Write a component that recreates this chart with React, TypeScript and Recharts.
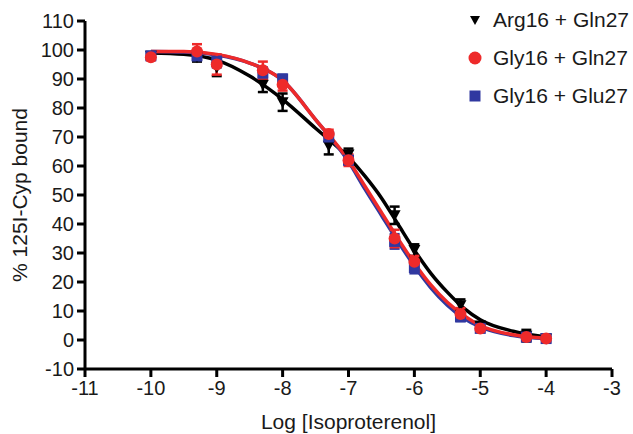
import React from 'react';
import { ComposedChart, Line, Scatter, XAxis, YAxis, ErrorBar } from 'recharts';

// Measured doses (log M)
const doses = [-10, -9.3, -9, -8.3, -8, -7.3, -7, -6.3, -6, -5.3, -5, -4.3, -4];

// Arg16 + Gln27
const argGlnValues = [98, 97.5, 94, 88, 82, 67, 64, 43, 31, 12, 5, 1.5, 0.5];
const argGlnErrors = [1, 1.5, 3, 2.5, 3, 3, 2, 3, 2, 2, 1, 2, 1];
// Gly16 + Gln27
const glyGlnValues = [97.5, 99.5, 95, 93, 88, 71, 62, 35, 27, 9, 4, 1, 0.5];
const glyGlnErrors = [1, 2.5, 3.5, 3, 2, 1.5, 2, 3, 2, 2, 1, 1, 1];
// Gly16 + Glu27
const glyGluValues = [98, 98, 96, 92, 90, 70, 62, 34, 25, 8, 4, 1, 0.5];
const glyGluErrors = [1, 1.5, 2, 2, 1.5, 1.5, 1.5, 2.5, 2, 1.5, 1, 1, 1];

// Fitted curves
const curveX = [-10, -9.5, -9, -8.5, -8, -7.5, -7, -6.75, -6.5, -6.25, -6, -5.75, -5.5, -5.25, -5, -4.5, -4];
const argGlnCurve = [99, 98.5, 96.5, 91, 83, 73, 63, 56.5, 49, 40, 31, 23, 16.5, 11, 7, 3, 1];
const glyGlnCurve = [99.5, 99.5, 98.5, 95.5, 89.5, 76, 62, 53, 44, 35, 26.5, 19, 13, 8.5, 5, 1.8, 0.6];
const glyGluCurve = [99.5, 99.3, 98.3, 95.5, 89.5, 76, 61.5, 52, 43, 34, 25.5, 18, 12, 7.5, 4.5, 1.5, 0.5];

const xTicks = [-11, -10, -9, -8, -7, -6, -5, -4, -3];
const yTicks = [-10, 0, 10, 20, 30, 40, 50, 60, 70, 80, 90, 100, 110];

const seriesNames = ['Arg16 + Gln27', 'Gly16 + Gln27', 'Gly16 + Glu27'];

const BLACK = '#000000';
const RED = '#ee2a2a';
const BLUE = '#3038a0';

const points = (vals: number[], errs: number[]) =>
  doses.map((x, i) => ({ x, y: vals[i], err: errs[i] }));
const curve = (vals: number[]) => curveX.map((x, i) => ({ x, y: vals[i] }));

const TriDown = (props: any) => {
  const { cx, cy } = props;
  return <path d={`M${cx - 6},${cy - 5} L${cx + 6},${cy - 5} L${cx},${cy + 6} Z`} fill={BLACK} />;
};
const Dot = (props: any) => <circle cx={props.cx} cy={props.cy} r={6} fill={RED} />;
const Sq = (props: any) => <rect x={props.cx - 5.5} y={props.cy - 5.5} width={11} height={11} fill={BLUE} />;

const LegendBox = () => {
  const items = [
    { name: seriesNames[0], icon: <path d="M3,5 L13,5 L8,14 Z" fill={BLACK} /> },
    { name: seriesNames[1], icon: <circle cx={8} cy={9} r={6.5} fill={RED} /> },
    { name: seriesNames[2], icon: <rect x={2.5} y={3.5} width={11} height={11} fill={BLUE} /> },
  ];
  return (
    <div style={{ position: 'absolute', left: 467, top: 1 }}>
      {items.map((it) => (
        <div key={it.name} style={{ display: 'flex', alignItems: 'center', height: 38 }}>
          <svg width={16} height={18} style={{ marginRight: 10 }}>{it.icon}</svg>
          <span style={{ fontFamily: 'Liberation Sans, Arial, sans-serif', fontSize: 21, color: '#1a1a1a', whiteSpace: 'nowrap' }}>{it.name}</span>
        </div>
      ))}
    </div>
  );
};

const tickStyle = { fontFamily: 'Liberation Sans, Arial, sans-serif', fontSize: 20, fill: '#1a1a1a' };
const labelStyle = { fontFamily: 'Liberation Sans, Arial, sans-serif', fontSize: 21, fill: '#1a1a1a', textAnchor: 'middle' as const };

export default function App() {
  return (
    <div style={{ position: 'absolute', left: 0, top: 0, width: 633, height: 434, background: '#fff' }}>
      <ComposedChart width={633} height={434} margin={{ top: 21, right: 21, bottom: 0, left: 0 }}>
        <XAxis
          type="number"
          dataKey="x"
          domain={[-11, -3]}
          ticks={xTicks}
          allowDataOverflow
          stroke={BLACK}
          strokeWidth={3}
          tickSize={8}
          tickMargin={4}
          height={65}
          tick={tickStyle}
          tickLine={{ stroke: BLACK, strokeWidth: 3 }}
          label={{ value: 'Log [Isoproterenol]', position: 'insideBottom', offset: 5, style: labelStyle }}
        />
        <YAxis
          type="number"
          dataKey="y"
          domain={[-10, 110]}
          ticks={yTicks}
          allowDataOverflow
          stroke={BLACK}
          strokeWidth={3}
          tickSize={8}
          tickMargin={3}
          width={85}
          tick={tickStyle}
          tickLine={{ stroke: BLACK, strokeWidth: 3 }}
          label={{ value: '% 125I-Cyp bound', angle: -90, position: 'insideLeft', offset: 20, style: labelStyle }}
        />
        <Line data={curve(argGlnCurve)} dataKey="y" type="monotone" stroke={BLACK} strokeWidth={3.5} dot={false} isAnimationActive={false} legendType="none" />
        <Line data={curve(glyGluCurve)} dataKey="y" type="monotone" stroke={BLUE} strokeWidth={3.5} dot={false} isAnimationActive={false} legendType="none" />
        <Line data={curve(glyGlnCurve)} dataKey="y" type="monotone" stroke={RED} strokeWidth={3.5} dot={false} isAnimationActive={false} legendType="none" />
        <Scatter name={seriesNames[0]} data={points(argGlnValues, argGlnErrors)} dataKey="y" shape={<TriDown />} isAnimationActive={false}>
          <ErrorBar dataKey="err" direction="y" width={5} stroke={BLACK} strokeWidth={2.5} isAnimationActive={false} />
        </Scatter>
        <Scatter name={seriesNames[2]} data={points(glyGluValues, glyGluErrors)} dataKey="y" shape={<Sq />} isAnimationActive={false}>
          <ErrorBar dataKey="err" direction="y" width={5} stroke={BLUE} strokeWidth={2.5} isAnimationActive={false} />
        </Scatter>
        <Scatter name={seriesNames[1]} data={points(glyGlnValues, glyGlnErrors)} dataKey="y" shape={<Dot />} isAnimationActive={false}>
          <ErrorBar dataKey="err" direction="y" width={5} stroke={RED} strokeWidth={2.5} isAnimationActive={false} />
        </Scatter>
      </ComposedChart>
      <LegendBox />
    </div>
  );
}
